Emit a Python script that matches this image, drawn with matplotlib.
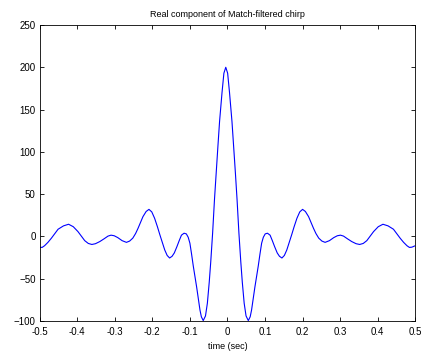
import numpy as np
import matplotlib
matplotlib.use("Agg")
from matplotlib import pyplot as plt

# half profile of the match-filtered chirp
# lag = distance from the main peak (sec), amp = real component
peak_time = -0.0045
lag = [0.0, 0.005, 0.010, 0.0165, 0.021, 0.0255, 0.030, 0.035, 0.040, 0.044,
       0.049, 0.054, 0.060, 0.065, 0.0687, 0.0775, 0.0865, 0.091, 0.0955, 0.100,
       0.105, 0.111, 0.118, 0.124, 0.130, 0.137, 0.143, 0.1495, 0.156, 0.1625,
       0.169, 0.1755, 0.182, 0.1895, 0.197, 0.2045, 0.212, 0.2205, 0.227, 0.2335,
       0.240, 0.2475, 0.256, 0.2645, 0.276, 0.2875, 0.297, 0.3055, 0.3135, 0.324,
       0.3355, 0.347, 0.3565, 0.366, 0.3755, 0.384, 0.3935, 0.406, 0.4185, 0.432,
       0.4465, 0.4645, 0.4735, 0.4825, 0.489, 0.4955, 0.5045]
amp = [200, 193, 170, 136, 106, 76, 44, 4, -30, -54,
       -79, -94, -99.5, -95, -87, -60, -35, -21, -8, -1,
       3, 3.8, 1.5, -5, -12, -19.5, -23.5, -25.5, -22.5, -16,
       -7, 2, 11.5, 21.5, 29, 32, 29.5, 23.4, 16.5, 9.7,
       3.5, -2, -5.5, -7, -5, -1.4, 0.8, 1.5, 0.4, -2.8,
       -6.1, -8.6, -9.5, -8.3, -5, 0, 5.7, 11.5, 14.4, 12.5,
       8.5, -2.2, -7, -11, -13, -12.7, -11]

xticks = [-0.5, -0.4, -0.3, -0.2, -0.1, 0, 0.1, 0.2, 0.3, 0.4, 0.5]
xticklabels = ["-0.5", "-0.4", "-0.3", "-0.2", "-0.1", "0", "0.1", "0.2", "0.3", "0.4", "0.5"]
yticks = [-100, -50, 0, 50, 100, 150, 200, 250]

lag = np.array(lag)
amp = np.array(amp)
t = np.concatenate([peak_time - lag[::-1], peak_time + lag[1:]])
y = np.concatenate([amp[::-1], amp[1:]])

plt.rcParams['font.family'] = ['Liberation Sans', 'DejaVu Sans']

fig = plt.figure(figsize=(4.22, 3.56), dpi=100)
ax = fig.add_axes([0.094, 0.0983, 0.890, 0.8315])
ax.plot(t, y, color="#0000ff", lw=0.8)

ax.set_xlim(-0.5, 0.5)
ax.set_ylim(-100, 250)
ax.set_xticks(xticks)
ax.set_xticklabels(xticklabels)
ax.set_yticks(yticks)
ax.tick_params(direction="in", length=3, width=0.6, labelsize=7, pad=3,
               top=True, right=True)
ax.tick_params(axis="x", pad=4)
for s in ax.spines.values():
    s.set_linewidth(0.6)

ax.set_title("Real component of Match-filtered chirp", fontsize=6.5, pad=6)
ax.set_xlabel("time (sec)", fontsize=6.5, labelpad=4)

fig.savefig("out.png", dpi=100)
